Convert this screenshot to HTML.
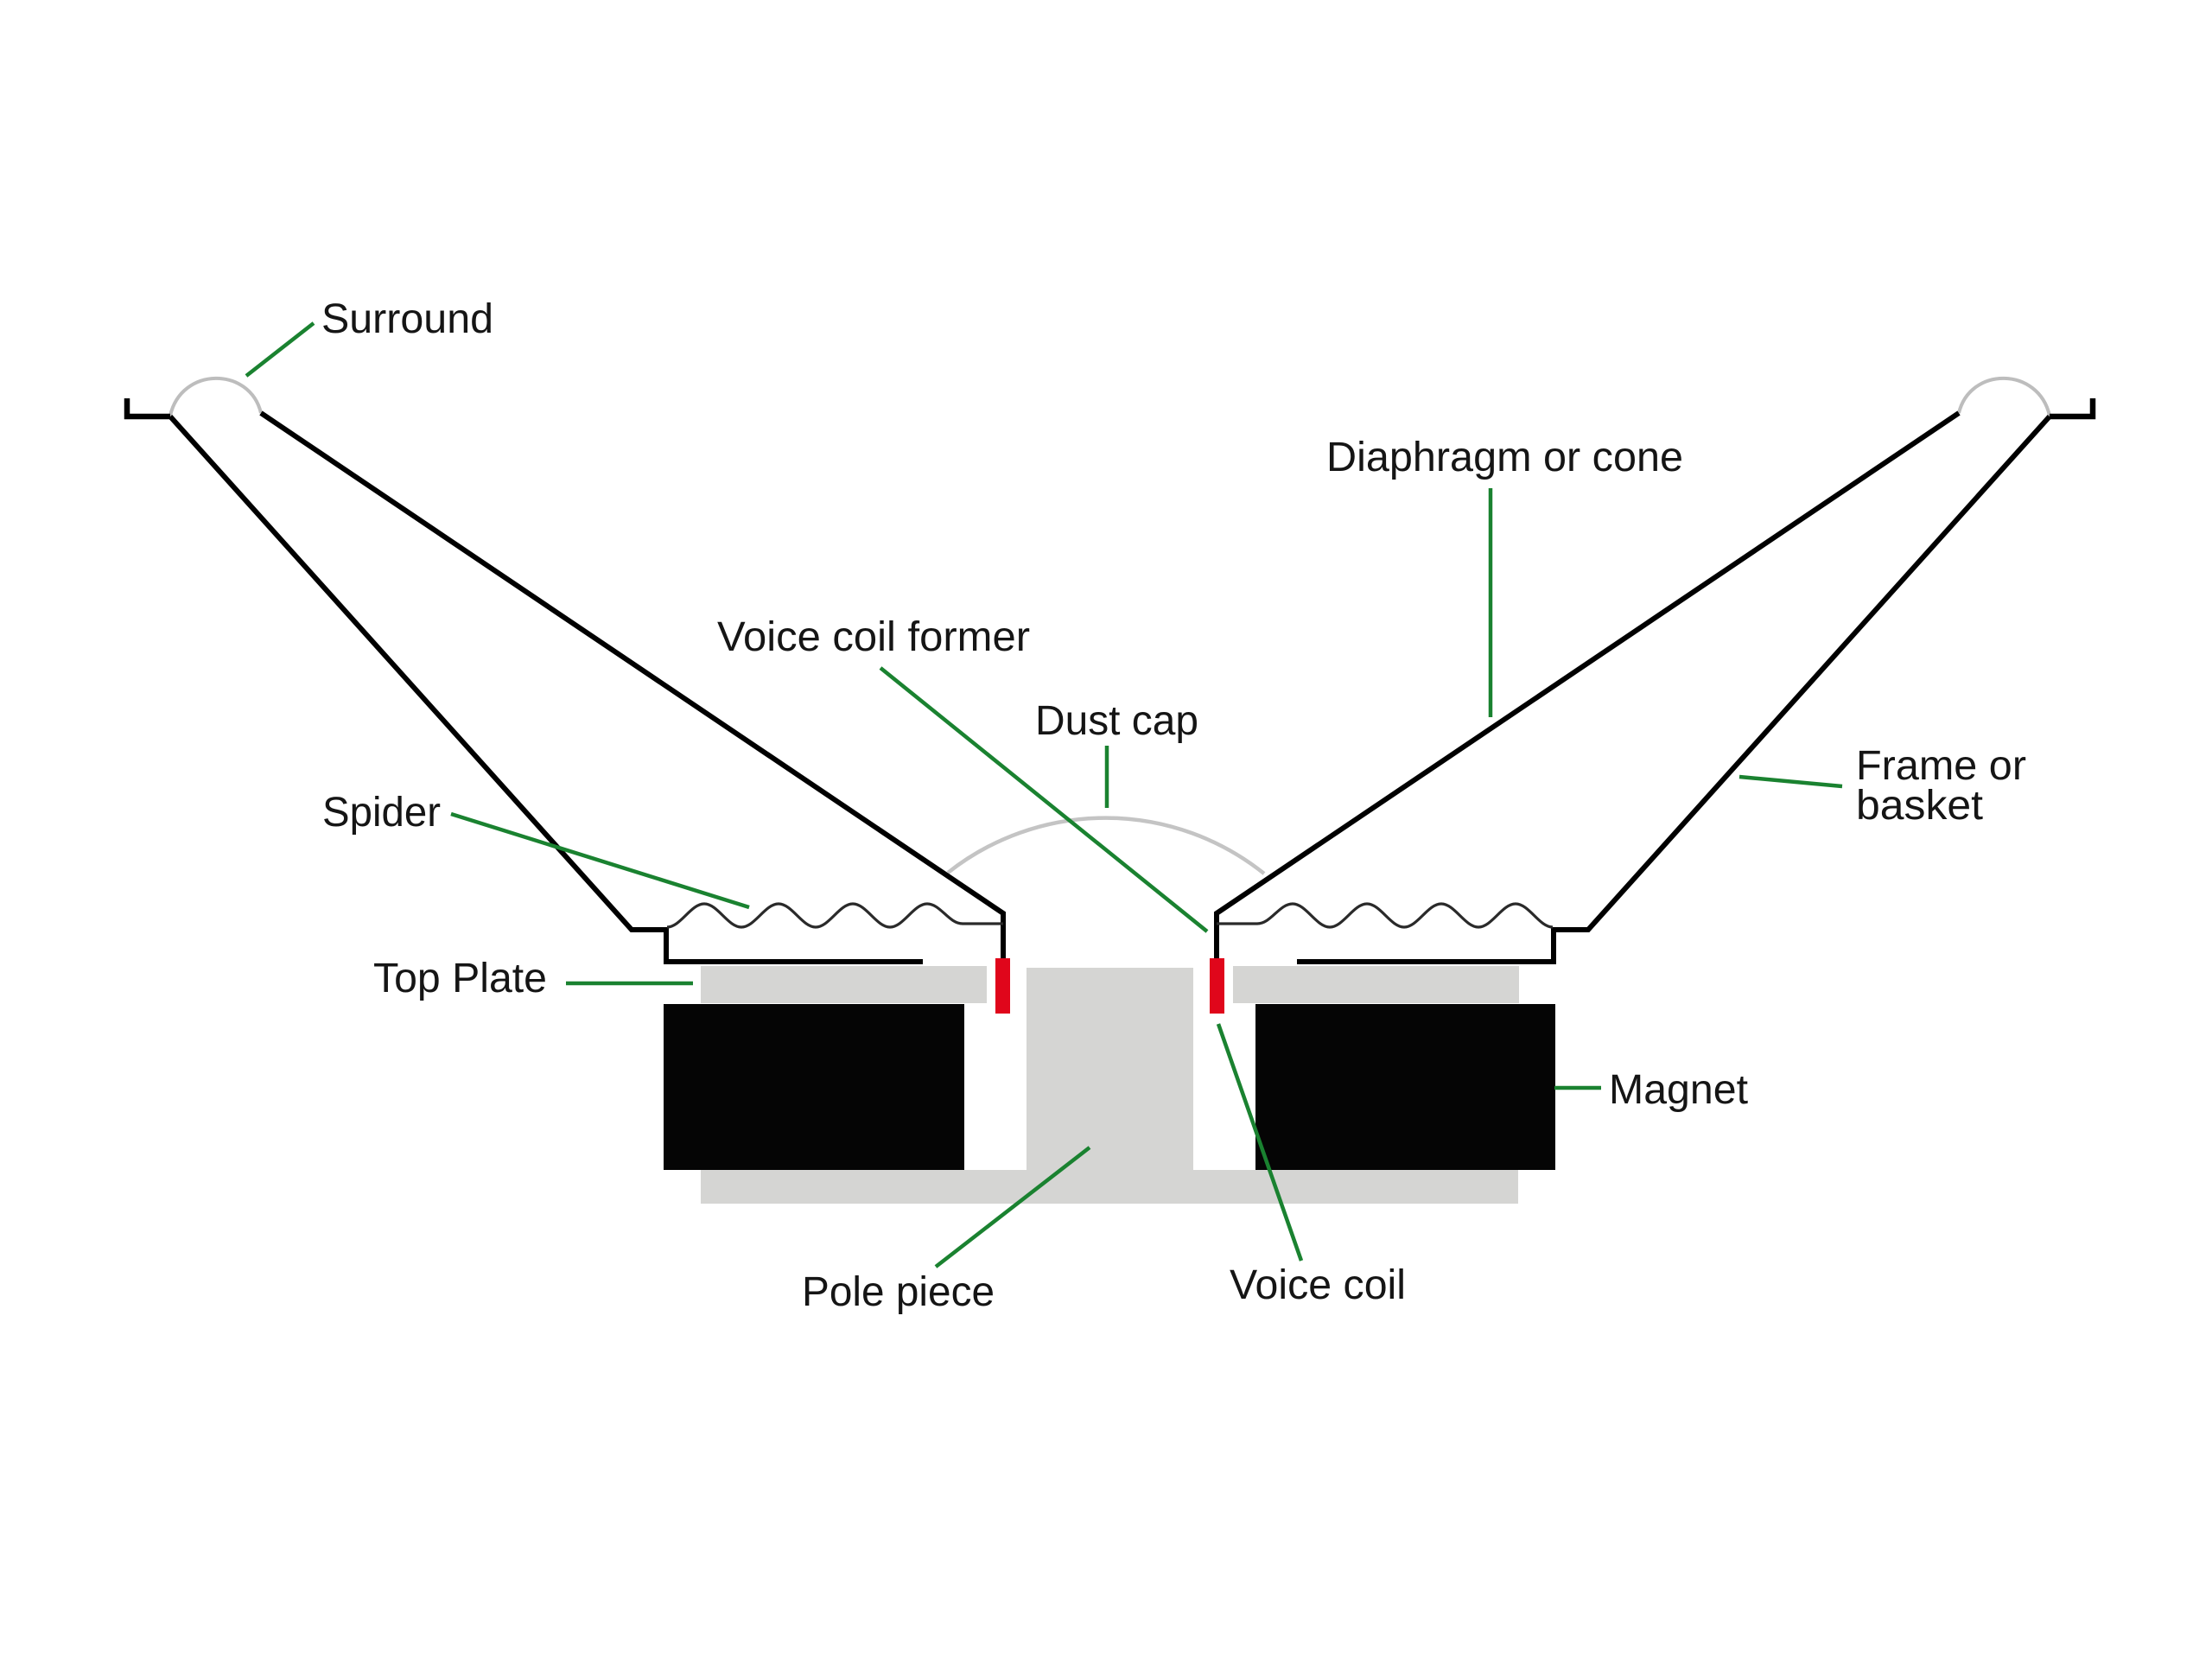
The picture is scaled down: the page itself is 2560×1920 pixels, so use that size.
<!DOCTYPE html>
<html>
<head>
<meta charset="utf-8">
<style>
  html,body{margin:0;padding:0;background:#ffffff;}
  body{width:2560px;height:1920px;overflow:hidden;}
  svg{display:block;}
  text{font-family:"Liberation Sans", sans-serif;font-size:48px;fill:#151515;}
</style>
</head>
<body>
<svg width="2560" height="1920" viewBox="0 0 2560 1920" xmlns="http://www.w3.org/2000/svg">
  <rect x="0" y="0" width="2560" height="1920" fill="#ffffff"/>

  <!-- Gray steel parts -->
  <g fill="#d5d5d3">
    <rect x="811" y="1118" width="331" height="43"/>
    <rect x="1427" y="1118" width="331" height="43"/>
    <rect x="1188" y="1120" width="193" height="273"/>
    <rect x="811" y="1354" width="946" height="39"/>
  </g>

  <!-- Magnets -->
  <rect x="768" y="1162" width="348" height="192" fill="#050505"/>
  <rect x="1453" y="1162" width="347" height="192" fill="#050505"/>

  <!-- Dust cap -->
  <path d="M1097,1010 A294,294 0 0 1 1463,1011" fill="none" stroke="#c4c4c4" stroke-width="4.5"/>

  <!-- Left half mechanics -->
  <g id="lefthalf">
    <!-- surround -->
    <path d="M197,481 C210,424 289,424 302,478" fill="none" stroke="#bdbdbd" stroke-width="4"/>
    <!-- bracket -->
    <polyline points="147,461 147,482 197,482" fill="none" stroke="#000" stroke-width="6.5" stroke-linejoin="miter"/>
    <!-- frame -->
    <polyline points="197,482 731,1076 771,1076 771,1113 1068,1113" fill="none" stroke="#000" stroke-width="6" stroke-linejoin="miter"/>
    <!-- cone + former -->
    <polyline points="302,478 1161,1057 1161,1110" fill="none" stroke="#000" stroke-width="6" stroke-linejoin="miter"/>
    <!-- spider -->
    <path d="M772,1073 C787.5,1073 799.5,1046 815,1046 C830.5,1046 842.5,1073 858,1073 C873.5,1073 885.5,1046 901,1046 C916.5,1046 928.5,1073 944,1073 C959.5,1073 971.5,1046 987,1046 C1002.5,1046 1014.5,1073 1030,1073 C1045.5,1073 1057.5,1046 1073,1046 C1088.5,1046 1098,1069 1114,1069 L1161,1069" fill="none" stroke="#2a2a2a" stroke-width="3.2"/>
    <!-- voice coil -->
    <rect x="1152" y="1109" width="17" height="64" fill="#e0061b"/>
  </g>

  <!-- Right half (mirror) -->
  <g transform="matrix(-1 0 0 1 2569 0)">
    <path d="M197,481 C210,424 289,424 302,478" fill="none" stroke="#bdbdbd" stroke-width="4"/>
    <polyline points="147,461 147,482 197,482" fill="none" stroke="#000" stroke-width="6.5" stroke-linejoin="miter"/>
    <polyline points="197,482 731,1076 771,1076 771,1113 1068,1113" fill="none" stroke="#000" stroke-width="6" stroke-linejoin="miter"/>
    <polyline points="302,478 1161,1057 1161,1110" fill="none" stroke="#000" stroke-width="6" stroke-linejoin="miter"/>
    <path d="M772,1073 C787.5,1073 799.5,1046 815,1046 C830.5,1046 842.5,1073 858,1073 C873.5,1073 885.5,1046 901,1046 C916.5,1046 928.5,1073 944,1073 C959.5,1073 971.5,1046 987,1046 C1002.5,1046 1014.5,1073 1030,1073 C1045.5,1073 1057.5,1046 1073,1046 C1088.5,1046 1098,1069 1114,1069 L1161,1069" fill="none" stroke="#2a2a2a" stroke-width="3.2"/>
    <rect x="1152" y="1109" width="17" height="64" fill="#e0061b"/>
  </g>

  <!-- Green leader lines -->
  <g stroke="#1a8230" stroke-width="4.5" stroke-linecap="butt" fill="none">
    <line x1="363" y1="374" x2="285" y2="435"/>
    <line x1="1725" y1="565" x2="1725" y2="830"/>
    <line x1="1019" y1="773" x2="1397" y2="1078"/>
    <line x1="1281" y1="863" x2="1281" y2="935"/>
    <line x1="522" y1="942" x2="867" y2="1050"/>
    <line x1="2013" y1="899" x2="2132" y2="910"/>
    <line x1="655" y1="1138" x2="802" y2="1138"/>
    <line x1="1799" y1="1259" x2="1853" y2="1259"/>
    <line x1="1261" y1="1328" x2="1083" y2="1466"/>
    <line x1="1410" y1="1185" x2="1506" y2="1459"/>
  </g>

  <!-- Labels -->
  <text x="372" y="385" textLength="199" lengthAdjust="spacingAndGlyphs">Surround</text>
  <text x="1535" y="545" textLength="413" lengthAdjust="spacingAndGlyphs">Diaphragm or cone</text>
  <text x="830" y="753" textLength="362" lengthAdjust="spacingAndGlyphs">Voice coil former</text>
  <text x="1198" y="850" textLength="189" lengthAdjust="spacingAndGlyphs">Dust cap</text>
  <text x="373" y="956" textLength="137" lengthAdjust="spacingAndGlyphs">Spider</text>
  <text x="2148" y="902" textLength="197" lengthAdjust="spacingAndGlyphs">Frame or</text>
  <text x="2148" y="948" textLength="147" lengthAdjust="spacingAndGlyphs">basket</text>
  <text x="432" y="1148" textLength="201" lengthAdjust="spacingAndGlyphs">Top Plate</text>
  <text x="1862" y="1277" textLength="161" lengthAdjust="spacingAndGlyphs">Magnet</text>
  <text x="928" y="1511" textLength="223" lengthAdjust="spacingAndGlyphs">Pole piece</text>
  <text x="1423" y="1503" textLength="204" lengthAdjust="spacingAndGlyphs">Voice coil</text>
</svg>
</body>
</html>
